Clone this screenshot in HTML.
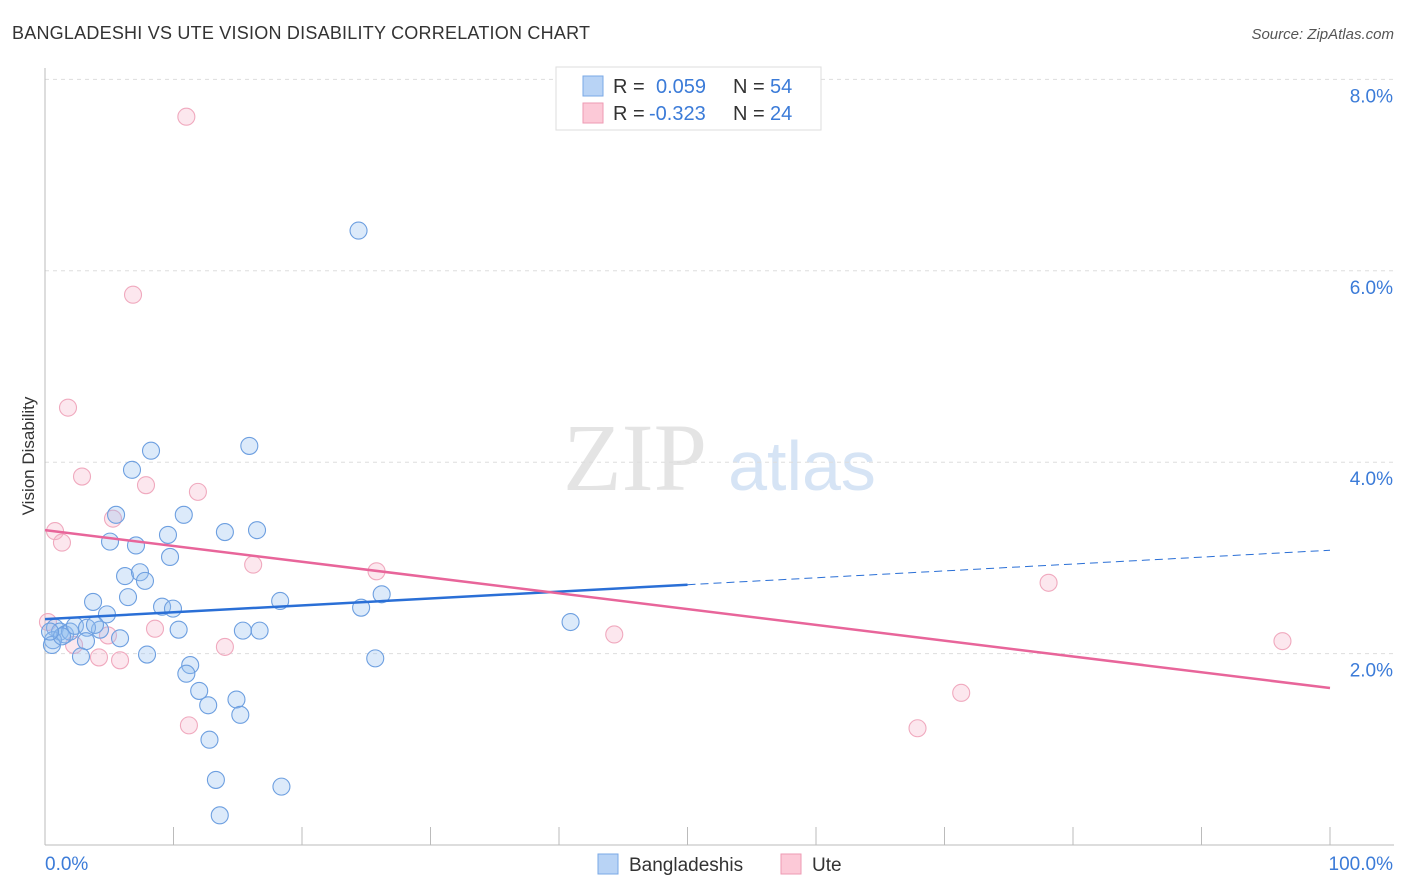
<!DOCTYPE html>
<html><head><meta charset="utf-8"><style>
body{margin:0;background:#fff;font-family:"Liberation Sans",sans-serif;}
svg{display:block}
</style></head><body>
<svg id="chart" width="1406" height="892" xmlns="http://www.w3.org/2000/svg">
<text x="12" y="39" font-size="18" fill="#333" textLength="578" lengthAdjust="spacing">BANGLADESHI VS UTE VISION DISABILITY CORRELATION CHART</text>
<text x="1394" y="39" font-size="15" fill="#555" text-anchor="end" font-style="italic">Source: ZipAtlas.com</text>
<text transform="translate(34,456) rotate(-90)" font-size="17" fill="#333" text-anchor="middle">Vision Disability</text>
<g>
<text x="635" y="490" font-size="96" fill="#e4e4e4" font-family="Liberation Serif" text-anchor="middle">ZIP</text>
<text x="802" y="490" font-size="70" fill="#d6e4f5" text-anchor="middle">atlas</text>
</g>
<g id="grid"></g><g id="axes"></g><g id="marks"></g>
<g>
<rect x="556" y="67" width="265" height="63" fill="#fff" stroke="#ddd"/>
<rect x="583" y="76" width="20" height="20" fill="#b8d3f5" stroke="#7aa8e6"/>
<rect x="583" y="103" width="20" height="20" fill="#fcc9d7" stroke="#ee9ab3"/>
<text x="613" y="93" font-size="20" fill="#333">R =</text>
<text x="656" y="93" font-size="20" fill="#3b7bd8">0.059</text>
<text x="733" y="93" font-size="20" fill="#333">N =</text>
<text x="770" y="93" font-size="20" fill="#3b7bd8">54</text>
<text x="613" y="120" font-size="20" fill="#333">R =</text>
<text x="649" y="120" font-size="20" fill="#3b7bd8">-0.323</text>
<text x="733" y="120" font-size="20" fill="#333">N =</text>
<text x="770" y="120" font-size="20" fill="#3b7bd8">24</text>
</g>
<g>
<rect x="598" y="854" width="20" height="20" fill="#b8d3f5" stroke="#7aa8e6"/>
<text x="629" y="871" font-size="19" fill="#333">Bangladeshis</text>
<rect x="781" y="854" width="20" height="20" fill="#fcc9d7" stroke="#ee9ab3"/>
<text x="812" y="871" font-size="19" fill="#333">Ute</text>
</g>
</svg>
<script>
const blueX=[24.4,8.25,15.9,6.77,5.53,10.8,14.0,16.5,9.57,5.06,7.08,9.73,6.23,7.39,7.78,6.46,3.74,4.82,9.11,9.96,18.3,24.6,26.2,40.9,10.4,15.4,16.7,4.28,5.84,0.78,1.17,1.56,1.95,2.33,3.27,0.62,0.54,3.19,2.80,7.94,25.7,11.3,11.0,12.0,14.9,12.7,15.2,12.8,13.3,18.4,13.6,1.32,3.89,0.39];
const blueY=[6.42,4.12,4.17,3.92,3.45,3.45,3.27,3.29,3.24,3.17,3.13,3.01,2.81,2.85,2.76,2.59,2.54,2.41,2.49,2.47,2.55,2.48,2.62,2.33,2.25,2.24,2.24,2.25,2.16,2.27,2.23,2.20,2.23,2.29,2.27,2.14,2.09,2.13,1.97,1.99,1.95,1.88,1.79,1.61,1.52,1.46,1.36,1.10,0.68,0.61,0.31,2.18,2.30,2.23];
const pinkX=[11.0,6.85,1.79,2.88,7.86,11.9,5.29,0.78,1.32,16.2,25.8,78.1,8.56,0.23,4.90,2.26,4.20,5.84,14.0,44.3,96.3,71.3,11.2,67.9];
const pinkY=[7.61,5.75,4.57,3.85,3.76,3.69,3.41,3.28,3.16,2.93,2.86,2.74,2.26,2.33,2.19,2.09,1.96,1.93,2.07,2.20,2.13,1.59,1.25,1.22];
const blueTrend=[2.36,3.08];
const pinkTrend=[3.29,1.64];
const yTicks=[2,4,6,8];
const yTickLabels=["2.0%","4.0%","6.0%","8.0%"];
const xTickCount=10;

const NS="http://www.w3.org/2000/svg";
const X=v=>45+v*12.85;
const Y=v=>845-v*95.7;
function mk(tag,attrs,parent){const e=document.createElementNS(NS,tag);for(const k in attrs)e.setAttribute(k,attrs[k]);parent.appendChild(e);return e;}
const grid=document.getElementById('grid'),axes=document.getElementById('axes'),marks=document.getElementById('marks');
yTicks.forEach((t,i)=>{
  const l=mk('line',{x1:45,x2:1394,y1:Y(t),y2:Y(t),stroke:'#ddd','stroke-dasharray':'4,4'},grid);
  
  
  const tx=mk('text',{x:1393,y:Y(t)+23,'font-size':19,fill:'#3b7bd8','text-anchor':'end'},axes);
  tx.textContent=yTickLabels[i];
  
  
});
const ya=mk('line',{x1:45,x2:45,y1:68,y2:845,stroke:'#bbb'},axes);


const xa=mk('line',{x1:45,x2:1394,y1:845,y2:845,stroke:'#bbb'},axes);


for(let i=1;i<=xTickCount;i++){
  const t=mk('line',{x1:X(i*10),x2:X(i*10),y1:827,y2:845,stroke:'#bbb'},axes);
  
  
}
const xl0=mk('text',{x:45,y:870,'font-size':19,fill:'#3b7bd8'},axes);xl0.textContent="0.0%";


const xl1=mk('text',{x:1393,y:870,'font-size':19,fill:'#3b7bd8','text-anchor':'end'},axes);xl1.textContent="100.0%";



pinkX.forEach((x,i)=>{
  const c=mk('circle',{cx:X(x),cy:Y(pinkY[i]),r:8.5,fill:'rgba(246,175,198,0.3)',stroke:'#f0a9be','stroke-width':1.1},marks);
  
  
});
blueX.forEach((x,i)=>{
  const c=mk('circle',{cx:X(x),cy:Y(blueY[i]),r:8.5,fill:'rgba(150,192,240,0.33)',stroke:'#6d9fe0','stroke-width':1.1},marks);
  
  
});
const bAt=v=>blueTrend[0]+(blueTrend[1]-blueTrend[0])*v/100;
const b1=mk('line',{x1:X(0),y1:Y(bAt(0)),x2:X(50),y2:Y(bAt(50)),stroke:'#2a6fd6','stroke-width':2.5},marks);


const b2=mk('line',{x1:X(50),y1:Y(bAt(50)),x2:X(100),y2:Y(bAt(100)),stroke:'#2a6fd6','stroke-width':1,'stroke-dasharray':'8,5'},marks);


const p1=mk('line',{x1:X(0),y1:Y(pinkTrend[0]),x2:X(100),y2:Y(pinkTrend[1]),stroke:'#e8659a','stroke-width':2.5},marks);


</script>
</body></html>
